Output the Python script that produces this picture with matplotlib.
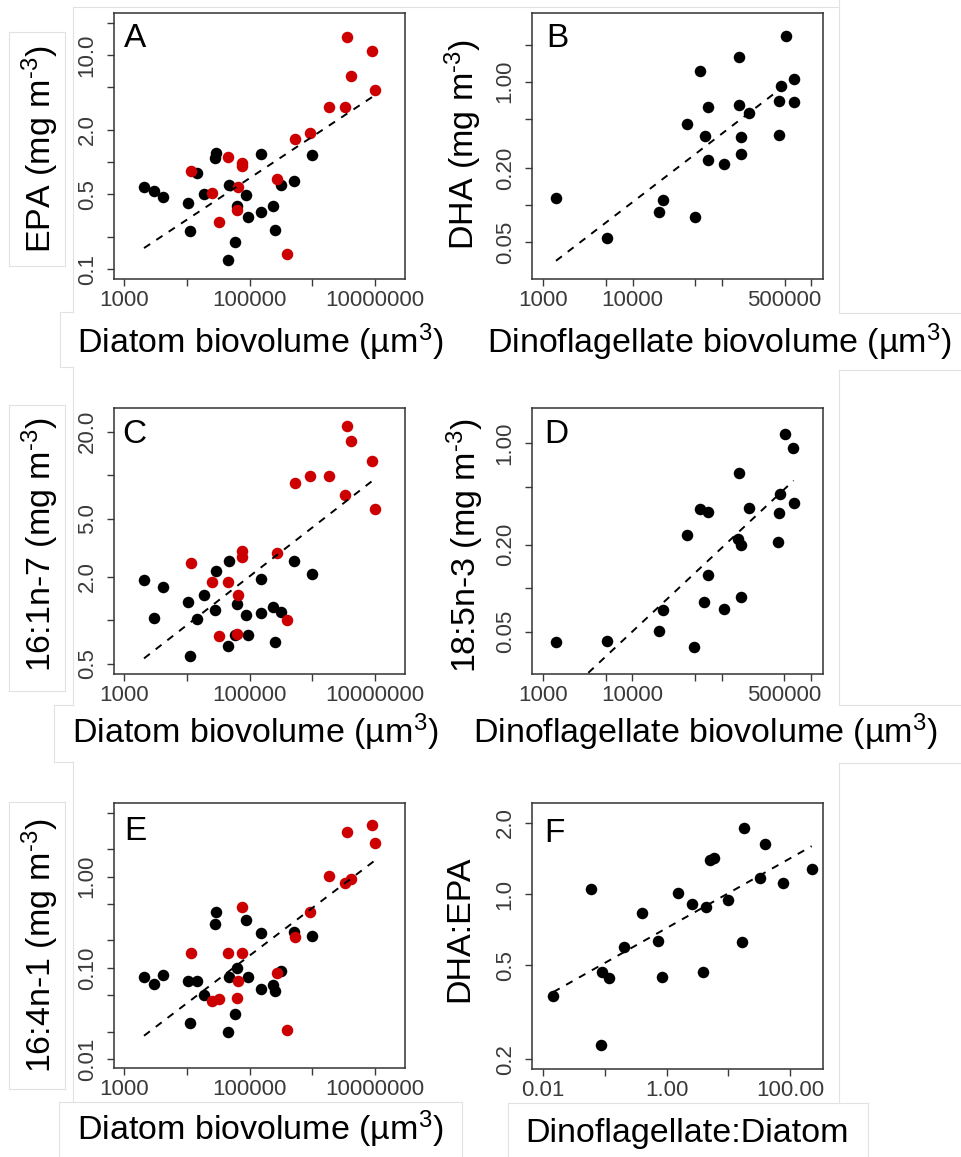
import numpy as np
import matplotlib
matplotlib.use("Agg")
import matplotlib.pyplot as plt
from matplotlib.lines import Line2D

plt.rcParams['font.family'] = ['Liberation Sans', 'DejaVu Sans']
plt.rcParams['mathtext.fontset'] = 'custom'
plt.rcParams['mathtext.rm'] = 'Liberation Sans'
plt.rcParams['mathtext.it'] = 'Liberation Sans:italic'
plt.rcParams['mathtext.bf'] = 'Liberation Sans:bold'
plt.rcParams['mathtext.default'] = 'regular'

# ---- data ----
# diatom biovolume, shared by panels A, C, E
diatom_black = [2061, 2972, 4188, 10500, 11040, 14450, 18660, 27990, 29040, 46240, 44570,
                59020, 62090, 86300, 95280, 150000, 153500, 232800, 253500, 319900, 509300, 975000]
diatom_red = [11590, 25350, 32810, 44570, 64420, 63530, 74470, 76380, 276100, 394500,
              535800, 929000, 1866000, 3365000, 3532000, 4140000, 8954000, 10120000]

epa_black = [0.585, 0.541, 0.472, 0.415, 0.226, 0.791, 0.507, 1.104, 1.230, 0.611, 0.121,
             0.181, 0.392, 0.493, 0.308, 0.340, 1.197, 0.386, 0.234, 0.615, 0.670, 1.161]
epa_red = [0.824, 0.521, 0.278, 1.114, 0.585, 0.355, 0.979, 0.912, 0.700, 0.140,
           1.637, 1.888, 3.304, 3.304, 14.62, 6.412, 10.96, 4.721]

c161_black = [1.897, 1.042, 1.706, 1.346, 0.568, 1.016, 1.496, 1.178, 2.198, 2.576, 0.665,
              0.787, 1.294, 1.089, 0.796, 1.117, 1.936, 1.242, 0.708, 1.135, 2.564, 2.075]
c161_red = [2.500, 1.828, 0.783, 1.849, 1.496, 0.805, 3.020, 2.748, 2.931, 1.005,
            8.810, 9.886, 9.954, 7.311, 21.88, 17.26, 12.62, 5.821]

c164_black = [0.0798, 0.0668, 0.0832, 0.0716, 0.0247, 0.0716, 0.0507, 0.302, 0.415, 0.0798, 0.0200,
              0.0315, 0.100, 0.331, 0.0798, 0.0590, 0.241, 0.0641, 0.0552, 0.0927, 0.247, 0.221]
c164_red = [0.146, 0.0433, 0.0452, 0.146, 0.0716, 0.0467, 0.146, 0.471, 0.0881, 0.0209,
            0.216, 0.405, 1.026, 0.845, 3.097, 0.936, 3.724, 2.350]

# dinoflagellate biovolume, shared by panels B, D
dino = [1387, 5117, 19720, 22030, 40550, 49430, 57150, 63970, 69660, 70310, 106200,
        156300, 153800, 163300, 163300, 202300, 427600, 438500, 453900, 516400, 629500, 639700]
dha = [0.1135, 0.0538, 0.0875, 0.1102, 0.454, 0.0802, 1.219, 0.363, 0.624, 0.232, 0.215,
       1.574, 0.647, 0.359, 0.259, 0.555, 0.370, 0.701, 0.923, 2.355, 1.052, 0.689]
c185 = [0.0422, 0.0432, 0.0508, 0.0706, 0.233, 0.0394, 0.352, 0.0798, 0.337, 0.123, 0.0718,
        0.627, 0.217, 0.200, 0.0873, 0.356, 0.209, 0.332, 0.447, 1.159, 0.923, 0.389]

ratio_dino_diatom = [0.0145, 0.0586, 0.0883, 0.0851, 0.1175, 0.203, 0.398, 0.715, 0.851, 1.528, 2.606,
                     3.882, 4.285, 5.047, 5.929, 9.886, 16.44, 17.95, 33.04, 39.81, 77.98, 224.4]
dha_epa = [0.371, 1.050, 0.469, 0.229, 0.443, 0.596, 0.830, 0.635, 0.447, 1.014, 0.906,
           0.467, 0.885, 1.400, 1.426, 0.944, 0.627, 1.901, 1.164, 1.626, 1.117, 1.271]

# log10-log10 regression lines (slope, intercept)
fit_slope = {'A': 0.387, 'B': 0.555, 'C': 0.336, 'D': 0.577, 'E': 0.522, 'F': 0.1475}
fit_icpt = {'A': -2.084, 'B': -3.195, 'C': -1.376, 'D': -3.607, 'E': -3.475, 'F': -0.144}

W, H = 962, 1157
fig = plt.figure(figsize=(W / 100, H / 100), dpi=100)
fig.patch.set_facecolor('white')

RED = '#cc0000'
TICKC = '#3a3a3a'


def fx(x):
    return x / W


def fy(y):
    return 1 - y / H


def make_ax(l, t, r, b):
    return fig.add_axes([fx(l), fy(b), (r - l) / W, (b - t) / H])


def style(ax, xlim, ylim, xt, xl, yt, yl):
    ax.set_xscale('log')
    ax.set_yscale('log')
    ax.set_xlim(10 ** xlim[0], 10 ** xlim[1])
    ax.set_ylim(10 ** ylim[0], 10 ** ylim[1])
    ax.xaxis.set_minor_locator(matplotlib.ticker.NullLocator())
    ax.yaxis.set_minor_locator(matplotlib.ticker.NullLocator())
    ax.set_xticks(xt)
    ax.set_xticklabels(xl)
    ax.set_yticks(yt)
    ax.set_yticklabels(yl, rotation=90, va='center')
    ax.tick_params(direction='out', length=5, width=1.0, color=TICKC,
                   labelcolor=TICKC, labelsize=16)
    ax.tick_params(axis='x', pad=3)
    ax.tick_params(axis='y', pad=7)
    for s in ax.spines.values():
        s.set_color('#333333')
        s.set_linewidth(1.1)


def scatter(ax, x, y, c):
    ax.plot(x, y, 'o', ms=8.3, mew=0, color=c, zorder=2)


def fit_line(ax, key, xs):
    lx = np.log10([min(xs), max(xs)])
    ly = fit_icpt[key] + fit_slope[key] * lx
    ax.plot(10 ** lx, 10 ** ly, color='black', lw=1.4, dashes=(3.8, 3.8), zorder=3)


def letter(ax, s, x, y):
    fig.text(fx(x), fy(y), s, fontsize=24, ha='left', va='baseline')


dia_xt = [1e3, 1e4, 1e5, 1e6, 1e7]
dia_xl = ['1000', '', '100000', '', '10000000']
dino_xt = [1e3, 5e3, 1e4, 5e4, 1e5, 5e5, 1e6]
dino_xl = ['1000', '', '10000', '', '', '500000', '']

# A
ax = make_ax(114.3, 13.3, 405, 279)
scatter(ax, diatom_black, epa_black, 'black')
scatter(ax, diatom_red, epa_red, RED)
fit_line(ax, 'A', diatom_black + diatom_red)
style(ax, (2.840, 7.479), (-1.090, 1.389), dia_xt, dia_xl,
      [0.1, 0.2, 0.5, 1, 2, 5, 10, 20], ['0.1', '', '0.5', '', '2.0', '', '10.0', ''])
letter(ax, 'A', 124, 46.7)

# B
ax = make_ax(532.3, 13.3, 823.3, 279.3)
scatter(ax, dino, dha, 'black')
fit_line(ax, 'B', dino)
style(ax, (2.877, 6.132), (-1.601, 0.554), dino_xt, dino_xl,
      [0.05, 0.1, 0.2, 0.5, 1, 2], ['0.05', '', '0.20', '', '1.00', ''])
letter(ax, 'B', 546, 46.7)

# C
ax = make_ax(114.3, 408.3, 405, 674.3)
scatter(ax, diatom_black, c161_black, 'black')
scatter(ax, diatom_red, c161_red, RED)
fit_line(ax, 'C', diatom_black + diatom_red)
style(ax, (2.840, 7.479), (-0.372, 1.462), dia_xt, dia_xl,
      [0.5, 1, 2, 5, 10, 20], ['0.5', '', '2.0', '5.0', '', '20.0'])
letter(ax, 'C', 122.5, 443.3)

# D
ax = make_ax(532.3, 407.7, 822.7, 674.3)
scatter(ax, dino, c185, 'black')
fit_line(ax, 'D', dino)
style(ax, (2.877, 6.132), (-1.595, 0.246), dino_xt, dino_xl,
      [0.05, 0.1, 0.2, 0.5, 1], ['0.05', '', '0.20', '', '1.00'])
letter(ax, 'D', 544, 443.3)

# E
ax = make_ax(114.3, 802.7, 405, 1068.3)
scatter(ax, diatom_black, c164_black, 'black')
scatter(ax, diatom_red, c164_red, RED)
fit_line(ax, 'E', diatom_black + diatom_red)
style(ax, (2.840, 7.479), (-2.102, 0.812), dia_xt, dia_xl,
      [0.01, 0.02, 0.05, 0.1, 0.2, 0.5, 1, 2, 5],
      ['0.01', '', '', '0.10', '', '', '1.00', '', ''])
letter(ax, 'E', 124, 840)

# F
ax = make_ax(532.3, 802.7, 823.3, 1069)
scatter(ax, ratio_dino_diatom, dha_epa, 'black')
fit_line(ax, 'F', ratio_dino_diatom)
style(ax, (-2.178, 2.540), (-0.741, 0.387), [0.01, 0.1, 1, 10, 100],
      ['0.01', '', '1.00', '', '100.00'], [0.2, 0.5, 1, 2], ['0.2', '0.5', '1.0', '2.0'])
letter(ax, 'F', 544, 841.7)

# ---- faint frames of the pasted images / text boxes ----
FRAME = '#e2e2e2'
segments = [
    ((72.7, 72.7), (6.7, 312)), ((72.7, 838), (6.7, 6.7)),
    ((72.7, 72.7), (367, 705)), ((72.7, 72.7), (762, 1101.7)),
    ((839, 839), (0, 313)), ((839, 839), (370, 705)), ((839, 839), (763, 1102.7)),
    ((839, 962), (313, 313)), ((839, 962), (370, 370)),
    ((839, 962), (705, 705)), ((839, 962), (763, 763)),
    ((60, 60), (312, 367)), ((60, 72.7), (312, 312)), ((60, 72.7), (367, 367)),
    ((54.3, 54.3), (705, 762)), ((54.3, 72.7), (705, 705)), ((54.3, 72.7), (762, 762)),
    ((59.3, 461.7), (1101.7, 1101.7)), ((59.3, 59.3), (1101.7, 1157)),
    ((461.7, 461.7), (1101.7, 1157)),
    ((507.7, 867.7), (1102.7, 1102.7)), ((507.7, 507.7), (1102.7, 1157)),
    ((867.7, 867.7), (1102.7, 1157)),
]
for t, b in [(32, 266), (405, 691), (802, 1089)]:
    segments += [((9, 65), (t, t)), ((9, 65), (b, b)), ((9, 9), (t, b)), ((65, 65), (t, b))]
for xs, ys in segments:
    fig.add_artist(Line2D([fx(v) for v in xs], [fy(v) for v in ys], color=FRAME, lw=0.8, zorder=0))

# ---- axis titles ----
LAB = 24.5
unit = 'mg m$^{\u2010 3}$'.replace(' 3', '3')
ylabs = [('EPA (' + unit + ')', 40, 149), ('DHA (' + unit + ')', 463, 144),
         ('16:1n-7 (' + unit + ')', 40, 545), ('18:5n-3 (' + unit + ')', 465, 546),
         ('16:4n-1 (' + unit + ')', 40, 946), ('DHA:EPA', 460, 929)]
for s, x, y in ylabs:
    fig.text(fx(x), fy(y), s, fontsize=LAB, rotation=90, ha='center', va='center')

xlabs = [('Diatom biovolume (µm$^3$)', 260.5, 352.7),
         ('Dinoflagellate biovolume (µm$^3$)', 719, 353.3),
         ('Diatom biovolume (µm$^3$)', 255, 743.3),
         ('Dinoflagellate biovolume (µm$^3$)', 705, 743.3),
         ('Diatom biovolume (µm$^3$)', 260.5, 1140),
         ('Dinoflagellate:Diatom', 686.7, 1141.7)]
for s, x, y in xlabs:
    fig.text(fx(x), fy(y), s, fontsize=LAB, ha='center', va='baseline')

fig.savefig('out.png', dpi=100)
